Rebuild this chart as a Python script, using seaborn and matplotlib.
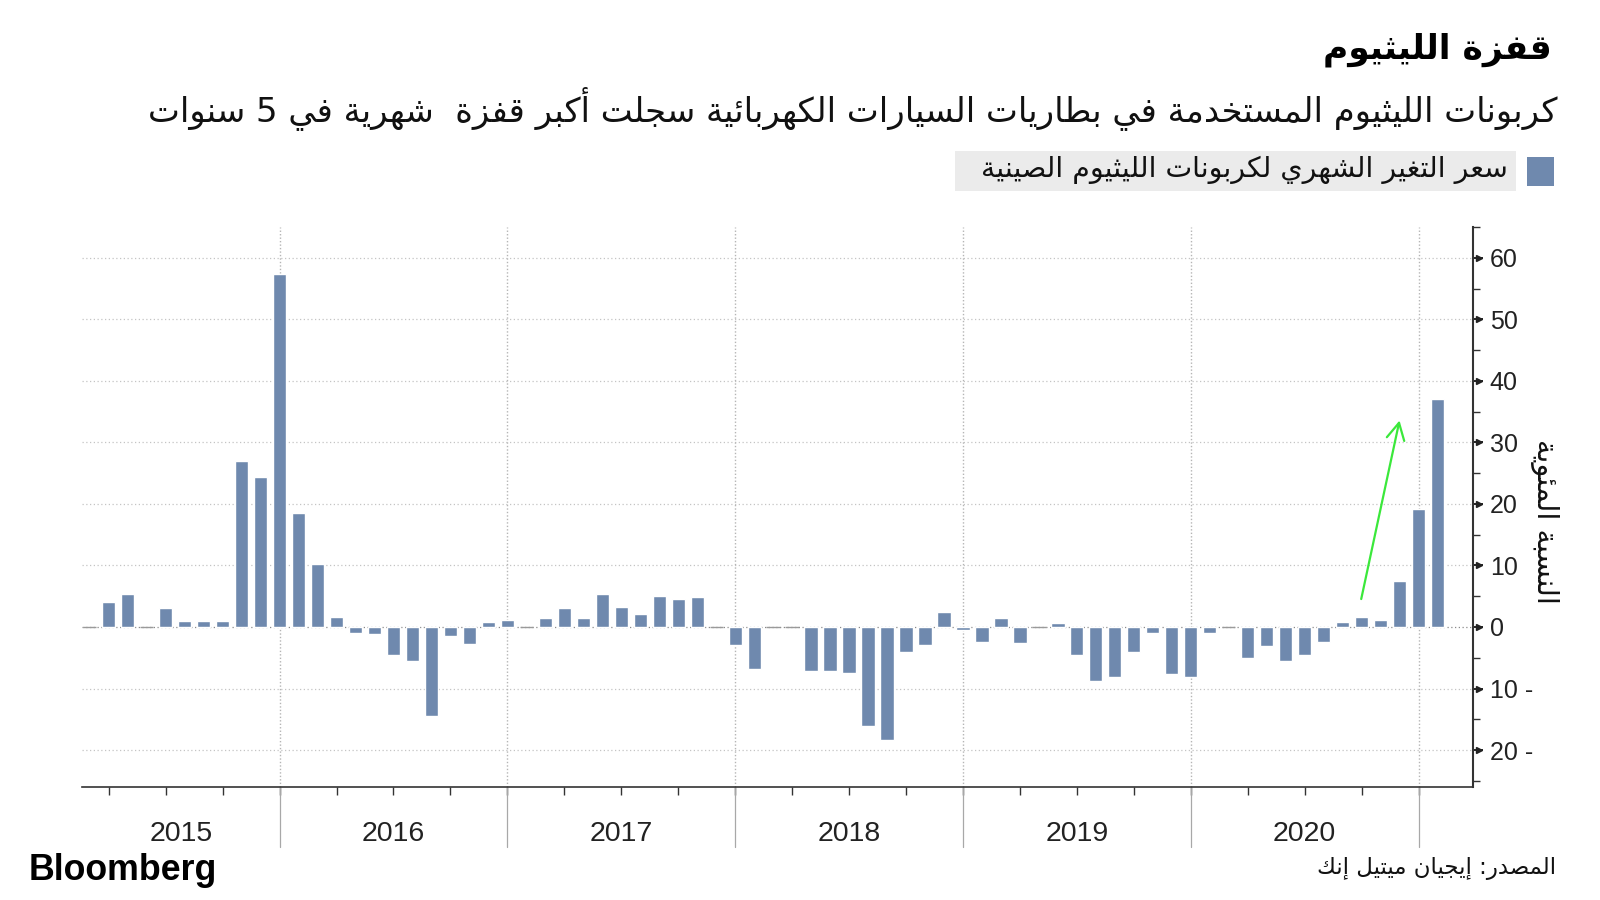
import re
import numpy as np
import pandas as pd
import matplotlib
matplotlib.use("Agg")
import matplotlib.pyplot as plt
import matplotlib.transforms as mtransforms
import seaborn as sns
from matplotlib import font_manager
from matplotlib.patches import Rectangle
from matplotlib.ticker import MultipleLocator

# ------------------------------------------------------------------ data
title_text = "قفزة الليثيوم"
subtitle_text = "كربونات الليثيوم المستخدمة في بطاريات السيارات الكهربائية سجلت أكبر قفزة  شهرية في 5 سنوات"
legend_text = "سعر التغير الشهري لكربونات الليثيوم الصينية"
ylabel_text = "النسبة المئوية"
source_text = "المصدر: إيجيان ميتيل إنك"
brand_text = "Bloomberg"

months = pd.period_range("2015-02", "2021-01", freq="M")
monthly_change = [
    0.0, 4.0, 5.3, 0.0, 3.1, 0.9, 0.9, 0.9, 26.9, 24.3, 57.3,          # 2015
    18.6, 10.2, 1.7, -0.9, -1.1, -4.6, -5.6, -14.4, -1.4, -2.8, 0.8, 1.2,  # 2016
    0.0, 1.5, 3.1, 1.5, 5.3, 3.2, 2.1, 5.1, 4.5, 4.9, 0.0, -2.9,       # 2017
    -6.9, 0.0, 0.0, -7.1, -7.2, -7.5, -16.1, -18.4, -4.1, -3.0, 2.5, -0.5,  # 2018
    -2.4, 1.4, -2.6, 0.0, 0.6, -4.5, -8.8, -8.2, -4.1, -0.9, -7.6, -8.2,   # 2019
    -0.9, 0.0, -5.0, -3.1, -5.6, -4.6, -2.4, 0.8, 1.7, 1.2, 7.4, 19.2,     # 2020
    37.1,                                                              # 2021
]
years = [2015, 2016, 2017, 2018, 2019, 2020]
y_ticks = [-20, -10, 0, 10, 20, 30, 40, 50, 60]
y_tick_labels = ["20 -", "10 -", "0", "10", "20", "30", "40", "50", "60"]
arrow_from = ("2020-09", 4.1)
arrow_to = ("2020-11", 34.0)

# ------------------------------------------------------------------ arabic shaping helpers
_AR_TABLE = [  # (letter, first presentation form, number of forms)
    ("\u0621", 0xFE80, 1), ("\u0622", 0xFE81, 2), ("\u0623", 0xFE83, 2),
    ("\u0624", 0xFE85, 2), ("\u0625", 0xFE87, 2), ("\u0626", 0xFE89, 4),
    ("\u0627", 0xFE8D, 2), ("\u0628", 0xFE8F, 4), ("\u0629", 0xFE93, 2),
    ("\u062A", 0xFE95, 4), ("\u062B", 0xFE99, 4), ("\u062C", 0xFE9D, 4),
    ("\u062D", 0xFEA1, 4), ("\u062E", 0xFEA5, 4), ("\u062F", 0xFEA9, 2),
    ("\u0630", 0xFEAB, 2), ("\u0631", 0xFEAD, 2), ("\u0632", 0xFEAF, 2),
    ("\u0633", 0xFEB1, 4), ("\u0634", 0xFEB5, 4), ("\u0635", 0xFEB9, 4),
    ("\u0636", 0xFEBD, 4), ("\u0637", 0xFEC1, 4), ("\u0638", 0xFEC5, 4),
    ("\u0639", 0xFEC9, 4), ("\u063A", 0xFECD, 4), ("\u0641", 0xFED1, 4),
    ("\u0642", 0xFED5, 4), ("\u0643", 0xFED9, 4), ("\u0644", 0xFEDD, 4),
    ("\u0645", 0xFEE1, 4), ("\u0646", 0xFEE5, 4), ("\u0647", 0xFEE9, 4),
    ("\u0648", 0xFEED, 2), ("\u0649", 0xFEEF, 2), ("\u064A", 0xFEF1, 4),
]
AR = {c: [chr(s + k) for k in range(n)] for c, s, n in _AR_TABLE}
LAMALEF = {"\u0622": ("\uFEF5", "\uFEF6"), "\u0623": ("\uFEF7", "\uFEF8"),
           "\u0625": ("\uFEF9", "\uFEFA"), "\u0627": ("\uFEFB", "\uFEFC")}


def shape(s):
    ch = list(s)
    n = len(ch)
    res = []
    i = 0
    while i < n:
        c = ch[i]
        if c not in AR:
            res.append(c)
            i += 1
            continue
        prev = ch[i - 1] if i > 0 else None
        pj = prev in AR and len(AR[prev]) == 4
        if c == "\u0644" and i + 1 < n and ch[i + 1] in LAMALEF:
            iso, fin = LAMALEF[ch[i + 1]]
            res.append(fin if pj else iso)
            i += 2
            continue
        nxt = ch[i + 1] if i + 1 < n else None
        nj = nxt in AR and nxt != "\u0621"
        f = AR[c]
        if len(f) == 4:
            g = f[3] if (pj and nj) else f[1] if pj else f[2] if nj else f[0]
        elif len(f) == 2:
            g = f[1] if pj else f[0]
        else:
            g = f[0]
        res.append(g)
        i += 1
    vis = "".join(res)[::-1]
    vis = re.sub(r"[0-9]+", lambda m: m.group(0)[::-1], vis)
    return vis


# ------------------------------------------------------------------ style
sns.set_theme(style="white")
plt.rcParams["font.family"] = ["DejaVu Sans"]
avail = {f.name for f in font_manager.fontManager.ttflist}
NARROW = "Liberation Sans Narrow" if "Liberation Sans Narrow" in avail else "Liberation Sans"
LATIN = "Liberation Sans"

BAR = "#6f89ae"
W, H = 1600, 900

fig = plt.figure(figsize=(16, 9), dpi=100)
fig.patch.set_facecolor("white")
ax = fig.add_axes([82 / W, 1 - 787 / H, (1473 - 82) / W, (787 - 227) / H])

df = pd.DataFrame({"month": months.strftime("%Y-%m"), "change": monthly_change})
order = list(df["month"])
sns.barplot(data=df, x="month", y="change", order=order, color=BAR,
            saturation=1, width=0.7, errorbar=None, ax=ax, zorder=3)
for p in ax.patches:
    if abs(p.get_height()) < 1e-9:
        p.set_edgecolor("#9a9a9a")
        p.set_linewidth(1.0)

xl = (-0.41, 72.87)
ax.set_xlim(*xl)
ax.set_ylim(-26, 65)
ax.set_xlabel("")
ax.set_ylabel("")

# horizontal grid
for v in y_ticks:
    ax.axhline(v, color="#c4c4c4" if v != 0 else "#8a8a8a",
               ls=(0, (1, 2)), lw=0.9, zorder=1)

# year dividers and quarter ticks
div_pos = [i for i, p in enumerate(months) if p.month == 12]
q_pos = [i for i, p in enumerate(months) if p.month in (3, 6, 9, 12)]
xt = ax.get_xaxis_transform()
for d in div_pos:
    ax.axvline(d, color="#b5b5b5", ls=(0, (1, 1.5)), lw=1.0, zorder=1)
    ax.plot([d, d], [0, -(847 - 787) / 560], transform=xt, color="#a8a8a8",
            lw=0.9, clip_on=False)
ax.set_xticks(q_pos, [""] * len(q_pos))
ax.tick_params(axis="x", which="major", direction="out", length=6, width=1,
               color="#333333", bottom=True)

bounds = [xl[0]] + div_pos
for k, yr in enumerate(years):
    mid = (bounds[k] + bounds[k + 1]) / 2
    ax.text(mid, -(834 - 787) / 560, str(yr), transform=xt, ha="center",
            va="center", fontsize=20.5, family=NARROW, color="#222222")

# y axis on the right
ax.yaxis.tick_right()
ax.set_yticks(y_ticks, y_tick_labels)
ax.yaxis.set_minor_locator(MultipleLocator(5))
ax.tick_params(axis="y", which="major", direction="out", length=7, width=1.4,
               pad=5, labelsize=18, colors="#222222", right=True)
ax.tick_params(axis="y", which="minor", direction="out", length=5, width=1,
               color="#333333", right=True)
for lab in ax.get_yticklabels():
    lab.set_family(LATIN)

# small arrow-heads at the end of the major y ticks
yt = mtransforms.blended_transform_factory(ax.transAxes, ax.transData)
yt_off = mtransforms.offset_copy(yt, fig=fig, x=6, y=0, units="dots")
ax.plot([1.0] * len(y_ticks), y_ticks, transform=yt_off, ls="none",
        marker=">", ms=4.5, color="#222222", clip_on=False, zorder=6)

for s in ("left", "top"):
    ax.spines[s].set_visible(False)
ax.spines["right"].set_color("#333333")
ax.spines["right"].set_linewidth(1.5)
ax.spines["bottom"].set_color("#333333")
ax.spines["bottom"].set_linewidth(1.2)
ax.grid(False)

# arrow annotation
ia = order.index(arrow_from[0])
ib = order.index(arrow_to[0])
ax.annotate("", xy=(ib + 0.03, arrow_to[1]), xytext=(ia - 0.05, arrow_from[1]),
            arrowprops=dict(arrowstyle="->,head_length=0.6,head_width=0.32",
                            color="#3be83b", lw=1.6, mutation_scale=20),
            zorder=5)

# ------------------------------------------------------------------ texts
renderer = fig.canvas.get_renderer()


def fit(t, width_px, use_height=False):
    bb = t.get_window_extent(renderer)
    w = bb.height if use_height else bb.width
    t.set_fontsize(t.get_fontsize() * width_px / w)


def ftext(x, y, s, **kw):
    return fig.text(x / W, 1 - y / H, s, **kw)


t_title = ftext(1552, 50, shape(title_text), ha="right", va="center",
                fontsize=30, fontweight="bold", color="#000000")
fit(t_title, 229)
t_sub = ftext(1558, 108, shape(subtitle_text), ha="right", va="center",
              fontsize=24, color="#111111")
fit(t_sub, 1417)

fig.patches.append(Rectangle((955 / W, 1 - 191 / H), (1516 - 955) / W, 40 / H,
                             transform=fig.transFigure, facecolor="#ebebeb",
                             edgecolor="none"))
fig.patches.append(Rectangle((1527 / W, 1 - 186 / H), 27 / W, 29 / H,
                             transform=fig.transFigure, facecolor=BAR,
                             edgecolor="none"))
t_leg = ftext(1508, 170, shape(legend_text), ha="right", va="center",
              fontsize=18, color="#111111")
fit(t_leg, 526)

t_yl = ftext(1545, 521, shape(ylabel_text), rotation=270, ha="center",
             va="center", fontsize=16, color="#111111")
fit(t_yl, 165, use_height=True)

t_src = ftext(1556, 869, shape(source_text), ha="right", va="center",
              fontsize=16, color="#111111")
fit(t_src, 240)

t_brand = ftext(29, 870, brand_text, ha="left", va="center", fontsize=26,
                fontweight="bold", family=LATIN, color="#000000")
fit(t_brand, 189)

fig.savefig("out.png", dpi=100, facecolor="white")
